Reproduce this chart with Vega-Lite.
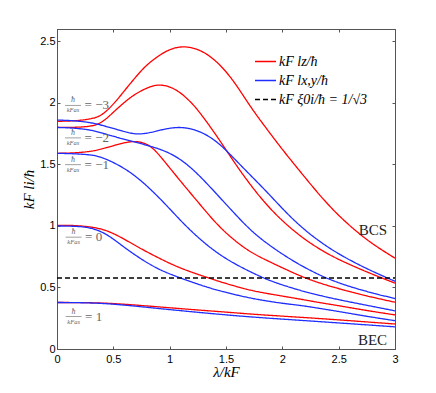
{
  "$schema": "https://vega.github.io/schema/vega-lite/v6.json",
  "width": 338,
  "height": 320,
  "autosize": {"type": "none"},
  "padding": {"left": 57, "top": 29, "right": 41, "bottom": 44},
  "background": "white",
  "config": {
    "view": {"stroke": "#555", "strokeWidth": 1},
    "axis": {
      "domainColor": "#555", "tickColor": "#555", "grid": false,
      "labelFont": "Liberation Sans", "labelFontSize": 11, "labelColor": "#000",
      "titleFont": "Liberation Serif", "titleFontStyle": "italic", "titleFontWeight": "normal",
      "titleFontSize": 15, "titleColor": "#000", "labelOverlap": false, "labelFlush": false
    }
  },
  "datasets": {
    "curves": [
      {"a":"-3","s":"z","x":0,"y":1.85},{"a":"-3","s":"z","x":0.15,"y":1.852},{"a":"-3","s":"z","x":0.3,"y":1.868},{"a":"-3","s":"z","x":0.38,"y":1.89},{"a":"-3","s":"z","x":0.45,"y":1.94},{"a":"-3","s":"z","x":0.53,"y":2.02},{"a":"-3","s":"z","x":0.6,"y":2.1},{"a":"-3","s":"z","x":0.68,"y":2.19},{"a":"-3","s":"z","x":0.76,"y":2.275},{"a":"-3","s":"z","x":0.83,"y":2.335},{"a":"-3","s":"z","x":0.98,"y":2.433},{"a":"-3","s":"z","x":1.12,"y":2.465},{"a":"-3","s":"z","x":1.27,"y":2.435},{"a":"-3","s":"z","x":1.42,"y":2.34},{"a":"-3","s":"z","x":1.57,"y":2.18},{"a":"-3","s":"z","x":1.71,"y":1.975},{"a":"-3","s":"z","x":1.86,"y":1.79},{"a":"-3","s":"z","x":2.0,"y":1.62},{"a":"-3","s":"z","x":2.16,"y":1.44},{"a":"-3","s":"z","x":2.33,"y":1.25},{"a":"-3","s":"z","x":2.5,"y":1.08},{"a":"-3","s":"z","x":2.75,"y":0.88},{"a":"-3","s":"z","x":3,"y":0.738},

      {"a":"-2","s":"z","x":0,"y":1.8},{"a":"-2","s":"z","x":0.15,"y":1.8},{"a":"-2","s":"z","x":0.3,"y":1.808},{"a":"-2","s":"z","x":0.38,"y":1.83},{"a":"-2","s":"z","x":0.45,"y":1.88},{"a":"-2","s":"z","x":0.53,"y":1.95},{"a":"-2","s":"z","x":0.68,"y":2.07},{"a":"-2","s":"z","x":0.83,"y":2.135},{"a":"-2","s":"z","x":0.9,"y":2.148},{"a":"-2","s":"z","x":0.98,"y":2.138},{"a":"-2","s":"z","x":1.05,"y":2.11},{"a":"-2","s":"z","x":1.12,"y":2.065},{"a":"-2","s":"z","x":1.2,"y":1.995},{"a":"-2","s":"z","x":1.27,"y":1.92},{"a":"-2","s":"z","x":1.42,"y":1.73},{"a":"-2","s":"z","x":1.57,"y":1.52},{"a":"-2","s":"z","x":1.71,"y":1.34},{"a":"-2","s":"z","x":1.86,"y":1.17},{"a":"-2","s":"z","x":2.0,"y":1.04},{"a":"-2","s":"z","x":2.16,"y":0.915},{"a":"-2","s":"z","x":2.33,"y":0.81},{"a":"-2","s":"z","x":2.5,"y":0.725},{"a":"-2","s":"z","x":2.75,"y":0.625},{"a":"-2","s":"z","x":3,"y":0.535},

      {"a":"-1","s":"z","x":0,"y":1.59},{"a":"-1","s":"z","x":0.15,"y":1.592},{"a":"-1","s":"z","x":0.3,"y":1.605},{"a":"-1","s":"z","x":0.38,"y":1.62},{"a":"-1","s":"z","x":0.53,"y":1.66},{"a":"-1","s":"z","x":0.66,"y":1.69},{"a":"-1","s":"z","x":0.75,"y":1.683},{"a":"-1","s":"z","x":0.83,"y":1.65},{"a":"-1","s":"z","x":0.9,"y":1.585},{"a":"-1","s":"z","x":0.975,"y":1.5},{"a":"-1","s":"z","x":1.12,"y":1.337},{"a":"-1","s":"z","x":1.27,"y":1.174},{"a":"-1","s":"z","x":1.42,"y":1.01},{"a":"-1","s":"z","x":1.57,"y":0.885},{"a":"-1","s":"z","x":1.71,"y":0.79},{"a":"-1","s":"z","x":1.86,"y":0.72},{"a":"-1","s":"z","x":2.0,"y":0.66},{"a":"-1","s":"z","x":2.16,"y":0.592},{"a":"-1","s":"z","x":2.33,"y":0.535},{"a":"-1","s":"z","x":2.5,"y":0.49},{"a":"-1","s":"z","x":2.75,"y":0.43},{"a":"-1","s":"z","x":3,"y":0.38},

      {"a":"0","s":"z","x":0,"y":1.005},{"a":"0","s":"z","x":0.15,"y":1.005},{"a":"0","s":"z","x":0.3,"y":0.993},{"a":"0","s":"z","x":0.437,"y":0.968},{"a":"0","s":"z","x":0.585,"y":0.9},{"a":"0","s":"z","x":0.733,"y":0.82},{"a":"0","s":"z","x":0.88,"y":0.75},{"a":"0","s":"z","x":1.028,"y":0.683},{"a":"0","s":"z","x":1.176,"y":0.629},{"a":"0","s":"z","x":1.353,"y":0.575},{"a":"0","s":"z","x":1.47,"y":0.54},{"a":"0","s":"z","x":1.62,"y":0.5},{"a":"0","s":"z","x":1.767,"y":0.466},{"a":"0","s":"z","x":2.0,"y":0.43},{"a":"0","s":"z","x":2.16,"y":0.405},{"a":"0","s":"z","x":2.33,"y":0.377},{"a":"0","s":"z","x":2.5,"y":0.352},{"a":"0","s":"z","x":2.75,"y":0.312},{"a":"0","s":"z","x":3,"y":0.277},

      {"a":"1","s":"z","x":0,"y":0.378},{"a":"1","s":"z","x":0.3,"y":0.377},{"a":"1","s":"z","x":0.5,"y":0.37},{"a":"1","s":"z","x":0.7,"y":0.357},{"a":"1","s":"z","x":0.88,"y":0.344},{"a":"1","s":"z","x":1.2,"y":0.32},{"a":"1","s":"z","x":1.5,"y":0.3},{"a":"1","s":"z","x":1.767,"y":0.28},{"a":"1","s":"z","x":2.16,"y":0.258},{"a":"1","s":"z","x":2.5,"y":0.237},{"a":"1","s":"z","x":3,"y":0.203},

      {"a":"-3","s":"xy","x":0,"y":1.86},{"a":"-3","s":"xy","x":0.15,"y":1.856},{"a":"-3","s":"xy","x":0.3,"y":1.84},{"a":"-3","s":"xy","x":0.38,"y":1.822},{"a":"-3","s":"xy","x":0.53,"y":1.785},{"a":"-3","s":"xy","x":0.63,"y":1.757},{"a":"-3","s":"xy","x":0.72,"y":1.743},{"a":"-3","s":"xy","x":0.83,"y":1.757},{"a":"-3","s":"xy","x":0.95,"y":1.787},{"a":"-3","s":"xy","x":1.06,"y":1.802},{"a":"-3","s":"xy","x":1.15,"y":1.798},{"a":"-3","s":"xy","x":1.27,"y":1.77},{"a":"-3","s":"xy","x":1.42,"y":1.69},{"a":"-3","s":"xy","x":1.57,"y":1.55},{"a":"-3","s":"xy","x":1.71,"y":1.418},{"a":"-3","s":"xy","x":1.86,"y":1.28},{"a":"-3","s":"xy","x":2.0,"y":1.14},{"a":"-3","s":"xy","x":2.16,"y":0.995},{"a":"-3","s":"xy","x":2.33,"y":0.873},{"a":"-3","s":"xy","x":2.5,"y":0.77},{"a":"-3","s":"xy","x":2.75,"y":0.65},{"a":"-3","s":"xy","x":3,"y":0.55},

      {"a":"-2","s":"xy","x":0,"y":1.8},{"a":"-2","s":"xy","x":0.15,"y":1.796},{"a":"-2","s":"xy","x":0.3,"y":1.78},{"a":"-2","s":"xy","x":0.38,"y":1.76},{"a":"-2","s":"xy","x":0.53,"y":1.72},{"a":"-2","s":"xy","x":0.68,"y":1.685},{"a":"-2","s":"xy","x":0.84,"y":1.645},{"a":"-2","s":"xy","x":0.975,"y":1.605},{"a":"-2","s":"xy","x":1.12,"y":1.53},{"a":"-2","s":"xy","x":1.27,"y":1.405},{"a":"-2","s":"xy","x":1.42,"y":1.256},{"a":"-2","s":"xy","x":1.57,"y":1.107},{"a":"-2","s":"xy","x":1.68,"y":1.0},{"a":"-2","s":"xy","x":1.77,"y":0.925},{"a":"-2","s":"xy","x":1.86,"y":0.86},{"a":"-2","s":"xy","x":2.0,"y":0.77},{"a":"-2","s":"xy","x":2.16,"y":0.68},{"a":"-2","s":"xy","x":2.33,"y":0.6},{"a":"-2","s":"xy","x":2.5,"y":0.535},{"a":"-2","s":"xy","x":2.75,"y":0.465},{"a":"-2","s":"xy","x":3,"y":0.41},

      {"a":"-1","s":"xy","x":0,"y":1.59},{"a":"-1","s":"xy","x":0.15,"y":1.587},{"a":"-1","s":"xy","x":0.3,"y":1.578},{"a":"-1","s":"xy","x":0.38,"y":1.565},{"a":"-1","s":"xy","x":0.53,"y":1.505},{"a":"-1","s":"xy","x":0.68,"y":1.42},{"a":"-1","s":"xy","x":0.83,"y":1.3},{"a":"-1","s":"xy","x":0.98,"y":1.16},{"a":"-1","s":"xy","x":1.12,"y":1.02},{"a":"-1","s":"xy","x":1.27,"y":0.89},{"a":"-1","s":"xy","x":1.42,"y":0.78},{"a":"-1","s":"xy","x":1.57,"y":0.695},{"a":"-1","s":"xy","x":1.71,"y":0.63},{"a":"-1","s":"xy","x":1.86,"y":0.565},{"a":"-1","s":"xy","x":2.0,"y":0.52},{"a":"-1","s":"xy","x":2.16,"y":0.475},{"a":"-1","s":"xy","x":2.33,"y":0.435},{"a":"-1","s":"xy","x":2.5,"y":0.4},{"a":"-1","s":"xy","x":2.75,"y":0.355},{"a":"-1","s":"xy","x":3,"y":0.31},

      {"a":"0","s":"xy","x":0,"y":1.0},{"a":"0","s":"xy","x":0.15,"y":0.998},{"a":"0","s":"xy","x":0.29,"y":0.99},{"a":"0","s":"xy","x":0.437,"y":0.94},{"a":"0","s":"xy","x":0.585,"y":0.833},{"a":"0","s":"xy","x":0.733,"y":0.738},{"a":"0","s":"xy","x":0.88,"y":0.657},{"a":"0","s":"xy","x":1.0,"y":0.61},{"a":"0","s":"xy","x":1.13,"y":0.565},{"a":"0","s":"xy","x":1.32,"y":0.505},{"a":"0","s":"xy","x":1.47,"y":0.466},{"a":"0","s":"xy","x":1.62,"y":0.433},{"a":"0","s":"xy","x":1.767,"y":0.404},{"a":"0","s":"xy","x":2.0,"y":0.37},{"a":"0","s":"xy","x":2.16,"y":0.355},{"a":"0","s":"xy","x":2.33,"y":0.33},{"a":"0","s":"xy","x":2.5,"y":0.305},{"a":"0","s":"xy","x":2.75,"y":0.265},{"a":"0","s":"xy","x":3,"y":0.23},

      {"a":"1","s":"xy","x":0,"y":0.378},{"a":"1","s":"xy","x":0.3,"y":0.376},{"a":"1","s":"xy","x":0.5,"y":0.365},{"a":"1","s":"xy","x":0.7,"y":0.348},{"a":"1","s":"xy","x":0.88,"y":0.331},{"a":"1","s":"xy","x":1.2,"y":0.302},{"a":"1","s":"xy","x":1.5,"y":0.277},{"a":"1","s":"xy","x":1.767,"y":0.257},{"a":"1","s":"xy","x":2.16,"y":0.233},{"a":"1","s":"xy","x":2.5,"y":0.212},{"a":"1","s":"xy","x":3,"y":0.18}
    ],
    "ref": [
      {"a":"ref","s":"xi","x":0,"y":0.577},{"a":"ref","s":"xi","x":3,"y":0.577}
    ],
    "labels": [
      {"v":"= −3","x":0.067,"y":1.98},
      {"v":"= −2","x":0.067,"y":1.715},
      {"v":"= −1","x":0.067,"y":1.497},
      {"v":"= 0","x":0.072,"y":0.909},
      {"v":"= 1","x":0.072,"y":0.263}
    ],
    "regimes": [
      {"t":"BCS","x":2.93,"y":0.968},
      {"t":"BEC","x":2.93,"y":0.073}
    ]
  },
  "resolve": {"axis": {"x": "independent", "y": "independent"}},
  "layer": [
    {
      "data": {"name": "curves"},
      "mark": {"type": "line", "interpolate": "basis", "strokeWidth": 1.3, "clip": true},
      "encoding": {
        "x": {"field": "x", "type": "quantitative", "scale": {"domain": [0, 3], "nice": false, "zero": false},
              "axis": {"orient": "bottom", "values": [0, 0.5, 1, 1.5, 2, 2.5, 3], "format": "~g", "tickSize": -3, "labelPadding": 7, "title": "λ/kF", "titlePadding": 0}},
        "y": {"field": "y", "type": "quantitative", "scale": {"domain": [0, 2.6], "nice": false},
              "axis": {"orient": "left", "values": [0, 0.5, 1, 1.5, 2, 2.5], "format": "~g", "tickSize": -3, "labelPadding": 5, "title": "kF li/ħ", "titlePadding": 3}},
        "color": {"field": "s", "type": "nominal", "scale": {"domain": ["z", "xy", "xi"], "range": ["#ff0000", "#1f2eff", "#000000"]},
                  "legend": {"orient": "none", "legendX": 197, "legendY": 21, "title": null, "symbolType": "stroke", "symbolSize": 441, "symbolStrokeWidth": 1.3, "labelFont": "Liberation Serif", "labelFontStyle": "italic", "labelFontSize": 14, "labelColor": "#000", "labelOffset": 2, "rowPadding": -3,
                             "labelExpr": "datum.value == 'z' ? 'kF lz/ħ' : datum.value == 'xy' ? 'kF lx,y/ħ' : 'kF ξ0i/ħ = 1/√3'"}},
        "strokeDash": {"field": "s", "type": "nominal", "scale": {"domain": ["z", "xy", "xi"], "range": [[1, 0], [1, 0], [5, 3]]},
                  "legend": {"orient": "none", "legendX": 197, "legendY": 21, "title": null, "symbolType": "stroke", "symbolSize": 441, "symbolStrokeWidth": 1.3, "labelFont": "Liberation Serif", "labelFontStyle": "italic", "labelFontSize": 14, "labelColor": "#000", "labelOffset": 2, "rowPadding": -3,
                             "labelExpr": "datum.value == 'z' ? 'kF lz/ħ' : datum.value == 'xy' ? 'kF lx,y/ħ' : 'kF ξ0i/ħ = 1/√3'"}},
        "detail": {"field": "a"}
      }
    },
    {
      "data": {"name": "ref"},
      "mark": {"type": "line", "strokeWidth": 1.3},
      "encoding": {
        "x": {"field": "x", "type": "quantitative", "scale": {"domain": [0, 3], "nice": false, "zero": false},
              "axis": {"orient": "top", "values": [0, 0.5, 1, 1.5, 2, 2.5, 3], "tickSize": -3, "labels": false, "title": null}},
        "y": {"field": "y", "type": "quantitative", "scale": {"domain": [0, 2.6], "nice": false},
              "axis": {"orient": "right", "values": [0, 0.5, 1, 1.5, 2, 2.5], "tickSize": -3, "labels": false, "title": null}},
        "color": {"field": "s", "type": "nominal"},
        "strokeDash": {"field": "s", "type": "nominal"},
        "detail": {"field": "a"}
      }
    },
    {
      "data": {"name": "labels"},
      "mark": {"type": "text", "text": "ħ", "dx": 8.5, "dy": -5, "fontSize": 8, "font": "Liberation Serif", "fontStyle": "italic", "color": "#666", "align": "center", "baseline": "middle"},
      "encoding": {
        "x": {"field": "x", "type": "quantitative", "axis": null},
        "y": {"field": "y", "type": "quantitative", "axis": null}
      }
    },
    {
      "data": {"name": "labels"},
      "mark": {"type": "tick", "orient": "horizontal", "xOffset": 8.5, "size": 16, "thickness": 0.7, "color": "#777", "opacity": 1},
      "encoding": {
        "x": {"field": "x", "type": "quantitative", "axis": null},
        "y": {"field": "y", "type": "quantitative", "axis": null}
      }
    },
    {
      "data": {"name": "labels"},
      "mark": {"type": "text", "text": "kFas", "dx": 8.5, "dy": 5, "fontSize": 6.5, "font": "Liberation Serif", "fontStyle": "italic", "color": "#666", "align": "center", "baseline": "middle"},
      "encoding": {
        "x": {"field": "x", "type": "quantitative", "axis": null},
        "y": {"field": "y", "type": "quantitative", "axis": null}
      }
    },
    {
      "data": {"name": "labels"},
      "mark": {"type": "text", "dx": 20, "fontSize": 13, "font": "Liberation Serif", "color": "#666", "align": "left", "baseline": "middle"},
      "encoding": {
        "x": {"field": "x", "type": "quantitative", "axis": null},
        "y": {"field": "y", "type": "quantitative", "axis": null},
        "text": {"field": "v"}
      }
    },
    {
      "data": {"name": "regimes"},
      "mark": {"type": "text", "fontSize": 15, "font": "Liberation Serif", "color": "#222", "align": "right", "baseline": "middle"},
      "encoding": {
        "x": {"field": "x", "type": "quantitative", "axis": null},
        "y": {"field": "y", "type": "quantitative", "axis": null},
        "text": {"field": "t"}
      }
    }
  ]
}
